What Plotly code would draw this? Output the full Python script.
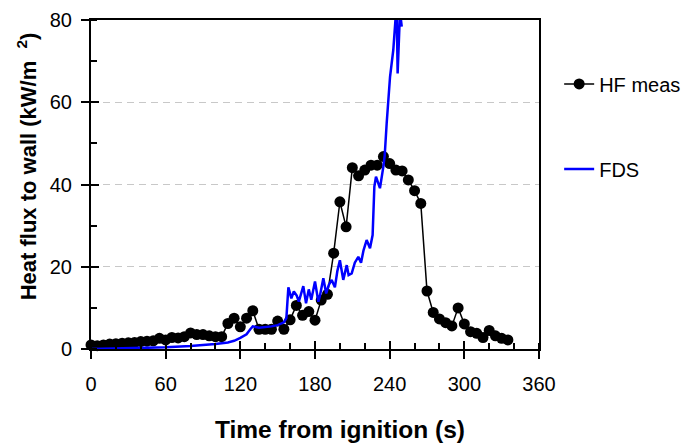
import plotly.graph_objects as go

# Measured heat flux (kW/m2), every 5 s
hf_time = list(range(0, 340, 5))
hf_meas = [1.0, 0.8, 1.0, 1.2, 1.3, 1.4, 1.5, 1.6, 1.8, 1.9,
           2.0, 2.6, 2.2, 2.8, 2.7, 3.0, 3.9, 3.5, 3.5, 3.2,
           3.0, 3.0, 6.2, 7.5, 5.4, 7.5, 9.3, 4.8, 4.8, 4.8,
           6.8, 4.8, 7.1, 10.6, 8.2, 9.1, 7.0, 11.9, 13.3, 23.3,
           35.8, 29.7, 44.1, 42.1, 43.5, 44.7, 44.7, 46.8, 45.1, 43.5,
           43.3, 41.1, 38.5, 35.4, 14.1, 8.9, 7.3, 6.4, 5.6, 10.0,
           6.1, 4.2, 3.8, 2.8, 4.5, 3.2, 2.6, 2.2]

# FDS prediction (kW/m2)
fds_time = [0, 20, 40, 60, 80, 90, 100, 110, 115, 120, 125, 128, 130, 135, 140,
            145, 150, 155, 157, 158.6, 161, 163, 165.3, 167, 170.6, 172.8, 175,
            177, 180, 182.7, 184, 186.7, 189, 191, 193.4, 196, 198, 200, 202.7,
            205.5, 207, 209.5, 212, 214.8, 217, 219, 221.5, 224.2, 226.3, 227.7,
            229, 232.2, 234.9, 236, 237.6, 238.9, 240.3, 242.9, 244.3, 245.6,
            246.4, 248.3, 249.7]
fds_vals = [0.0, 0.1, 0.2, 0.4, 0.7, 0.9, 1.2, 1.6, 2.0, 2.7, 3.6, 4.8, 5.5, 5.2, 5.3,
            5.5, 5.8, 6.5, 7.5, 15.0, 12.3, 14.0, 13.0, 11.5, 15.3, 11.1, 14.5,
            12.0, 16.4, 11.5, 13.0, 17.2, 13.5, 15.5, 16.8, 15.0, 19.0, 21.6, 16.8,
            20.4, 18.0, 18.4, 21.0, 22.4, 21.0, 24.0, 26.5, 24.5, 27.7, 39.5,
            41.9, 39.1, 44.3, 47.0, 54.9, 59.7, 66.2, 72.7, 80.8, 84.0,
            67.0, 82.0, 78.4]

x_ticks = [0, 60, 120, 180, 240, 300, 360]
y_ticks = [0, 20, 40, 60, 80]
x_title = "Time from ignition (s)"
y_title = "Heat flux to wall (kW/m&nbsp;&nbsp;<sup>2</sup>)"

font_family = "Liberation Sans, Arial, sans-serif"

fig = go.Figure()
fig.add_trace(go.Scatter(
    x=hf_time, y=hf_meas, name="HF meas", mode="lines+markers",
    line=dict(color="black", width=1.5),
    marker=dict(color="black", size=11),
    cliponaxis=False, legendgroup="a"))
fig.add_trace(go.Scatter(
    x=fds_time, y=fds_vals, name="FDS", mode="lines",
    line=dict(color="#0000ff", width=2.5),
    legendgroup="b"))
# invisible trace to carry overlay axes (inside half of major ticks)
fig.add_trace(go.Scatter(x=[None], y=[None], xaxis="x2", yaxis="y2",
                         showlegend=False, hoverinfo="skip"))

fig.update_layout(
    width=693, height=443,
    margin=dict(l=91, r=154, t=20, b=94, autoexpand=False),
    paper_bgcolor="white", plot_bgcolor="white",
    font=dict(family=font_family, size=20, color="black"),
    showlegend=True,
    legend=dict(x=1.045, y=0.865, xanchor="left", yanchor="top",
                tracegroupgap=56, font=dict(size=20),
                bgcolor="rgba(0,0,0,0)", itemwidth=30),
    xaxis=dict(
        range=[0, 360], tickvals=x_ticks, automargin=False,
        ticks="outside", ticklen=8, tickwidth=1.5, tickcolor="black",
        showline=True, linecolor="black", linewidth=2, mirror=True,
        showgrid=False, zeroline=False, ticklabelstandoff=8,
        minor=dict(ticks="inside", dtick=20, tick0=0, ticklen=6,
                   tickwidth=1.5, tickcolor="black", showgrid=False),
    ),
    yaxis=dict(
        range=[0, 80], tickvals=y_ticks, automargin=False,
        ticks="outside", ticklen=8, tickwidth=1.5, tickcolor="black",
        showline=True, linecolor="black", linewidth=2, mirror=True,
        showgrid=True, gridcolor="#c8c8c8", gridwidth=1, griddash="7px,5px",
        zeroline=False, ticklabelstandoff=5,
        minor=dict(ticks="inside", dtick=10, tick0=0, ticklen=6,
                   tickwidth=1.5, tickcolor="black", showgrid=False),
    ),
    xaxis2=dict(overlaying="x", matches="x", anchor="y", range=[0, 360],
                tickvals=x_ticks, ticks="inside", ticklen=8, tickwidth=1.5,
                tickcolor="black", showticklabels=False, showgrid=False,
                zeroline=False, showline=False),
    yaxis2=dict(overlaying="y", matches="y", anchor="x", range=[0, 80],
                tickvals=y_ticks, ticks="inside", ticklen=8, tickwidth=1.5,
                tickcolor="black", showticklabels=False, showgrid=False,
                zeroline=False, showline=False),
    annotations=[
        dict(text="<b>" + x_title + "</b>", xref="paper", yref="paper",
             x=0.556, y=-0.246, xanchor="center", yanchor="middle",
             showarrow=False, font=dict(size=24.5)),
        dict(text="<b>" + y_title + "</b>", xref="paper", yref="paper",
             x=-0.143, y=0.555, xanchor="center", yanchor="middle",
             textangle=-90, showarrow=False, font=dict(size=22)),
    ],
)

fig.write_html("out.html")
